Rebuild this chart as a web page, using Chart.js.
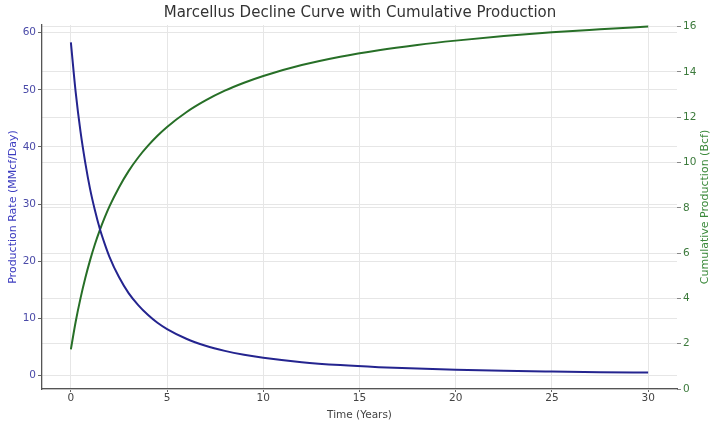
<!DOCTYPE html>
<html>
<head>
<meta charset="utf-8">
<script src="https://cdn.jsdelivr.net/npm/chart.js@4"></script>
<style>
  html, body { margin: 0; padding: 0; background: #fff; }
  #wrap { width: 720px; height: 428px; }
</style>
</head>
<body>
<div id="wrap"><canvas id="chart" width="720" height="428"></canvas></div>
<script>
// values
const years = [0, 0.25, 0.5, 0.75, 1, 1.25, 1.5, 1.75, 2, 2.5, 3, 3.5, 4, 4.5, 5, 6, 7, 8, 9, 10, 12, 14, 16, 18, 20, 22.5, 25, 27.5, 30];
const productionRate = [58.3, 49.6, 42.7, 37.2, 32.6, 28.9, 25.7, 23.1, 20.8, 17.2, 14.4, 12.3, 10.6, 9.2, 8.1, 6.4, 5.18, 4.28, 3.59, 3.06, 2.3, 1.79, 1.43, 1.17, 0.98, 0.79, 0.66, 0.55, 0.47];
const cumulative = [1.75, 2.97, 4.0, 4.9, 5.69, 6.39, 7.0, 7.55, 8.05, 8.9, 9.62, 10.22, 10.73, 11.18, 11.57, 12.22, 12.74, 13.17, 13.52, 13.82, 14.3, 14.67, 14.96, 15.19, 15.38, 15.58, 15.75, 15.88, 16.0];

const xTicks = [0, 5, 10, 15, 20, 25, 30];
const rateTicks = [0, 10, 20, 30, 40, 50, 60];
const cumTicks = [0, 2, 4, 6, 8, 10, 12, 14, 16];

const FONT = 'DejaVu Sans';
const GRID = '#e6e6e6';

function toPoints(xs, ys) {
    return xs.map((x, i) => ({ x: x, y: ys[i] }));
}

function fixedTicks(list) {
    return function (scale) {
        scale.ticks = list.map(v => ({ value: v }));
    };
}

// matplotlib puts the twin-axis label reading upwards, Chart.js draws it downwards
const rightTitle = {
    id: 'rightTitle',
    afterDraw(chart) {
        const ctx = chart.ctx;
        const area = chart.chartArea;
        ctx.save();
        ctx.translate(705, (area.top + area.bottom) / 2);
        ctx.rotate(-Math.PI / 2);
        ctx.font = '11px "' + FONT + '"';
        ctx.fillStyle = '#3c8a3c';
        ctx.textAlign = 'center';
        ctx.textBaseline = 'middle';
        ctx.fillText('Cumulative Production (Bcf)', 0, 0);
        ctx.restore();
    }
};

new Chart(document.getElementById('chart'), {
    type: 'line',
    data: {
        datasets: [{
            label: 'Production Rate',
            data: toPoints(years, productionRate),
            borderColor: '#24248f',
            borderWidth: 2,
            pointRadius: 0,
            cubicInterpolationMode: 'monotone',
            yAxisID: 'yRate'
        }, {
            label: 'Cumulative Production',
            data: toPoints(years, cumulative),
            borderColor: '#276f27',
            borderWidth: 2,
            pointRadius: 0,
            cubicInterpolationMode: 'monotone',
            yAxisID: 'yCum'
        }]
    },
    options: {
        responsive: false,
        animation: false,
        devicePixelRatio: 1,
        layout: { padding: 0 },
        plugins: {
            legend: { display: false },
            tooltip: { enabled: false },
            title: {
                display: true,
                text: 'Marcellus Decline Curve with Cumulative Production',
                color: '#333',
                font: { family: FONT, size: 15, weight: 'normal' },
                padding: { top: 4, bottom: 3 }
            }
        },
        scales: {
            x: {
                type: 'linear',
                min: -1.5,
                max: 31.5,
                afterBuildTicks: fixedTicks(xTicks),
                afterFit(scale) { scale.height = 39; },
                grid: { color: GRID, tickColor: '#666', tickLength: 3 },
                border: { display: true, color: '#555', width: 1.3 },
                ticks: {
                    color: '#444',
                    font: { family: FONT, size: 10.5 },
                    padding: 0,
                    maxRotation: 0
                },
                title: {
                    display: true,
                    text: 'Time (Years)',
                    color: '#444',
                    font: { family: FONT, size: 10.5 },
                    padding: { top: 0, bottom: 6 }
                }
            },
            yRate: {
                type: 'linear',
                position: 'left',
                min: -2.4,
                max: 61.35,
                afterBuildTicks: fixedTicks(rateTicks),
                afterFit(scale) { scale.width = 42; },
                grid: { color: GRID, tickColor: '#666', tickLength: 4 },
                border: { display: true, color: '#555', width: 1.3 },
                ticks: {
                    color: '#4a4aa8',
                    font: { family: FONT, size: 10.5 },
                    padding: 2
                },
                title: {
                    display: true,
                    text: 'Production Rate (MMcf/Day)',
                    color: '#3c3cc0',
                    font: { family: FONT, size: 11 },
                    padding: { top: 7, bottom: 0 }
                }
            },
            yCum: {
                type: 'linear',
                position: 'right',
                min: 0,
                max: 16.07,
                afterBuildTicks: fixedTicks(cumTicks),
                afterFit(scale) { scale.width = 43; },
                grid: { color: GRID, tickColor: '#888', tickLength: 4 },
                border: { display: false },
                ticks: {
                    color: '#3c7a3c',
                    font: { family: FONT, size: 10.5 },
                    padding: 2
                }
            }
        }
    },
    plugins: [rightTitle]
});
</script>
</body>
</html>
